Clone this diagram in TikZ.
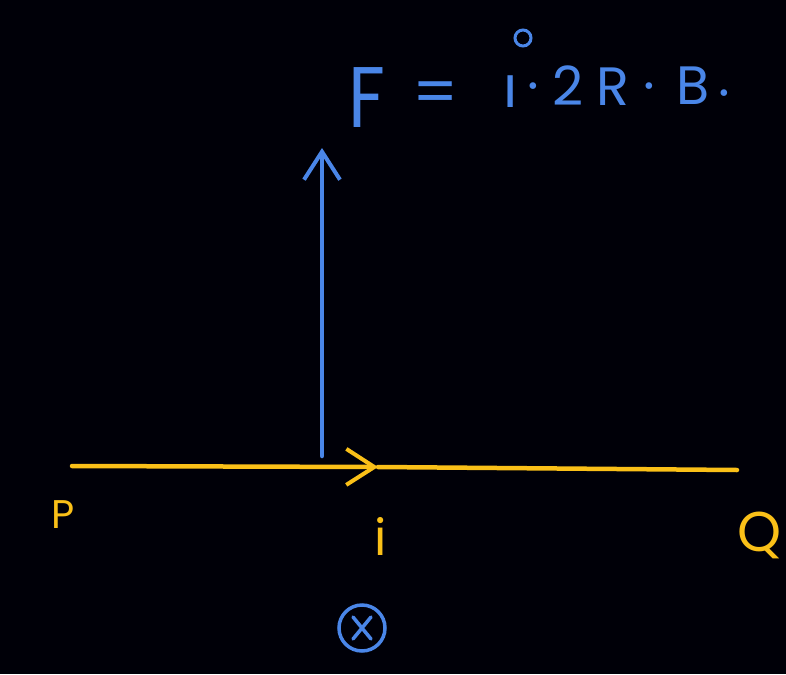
\documentclass[tikz,border=0pt]{standalone}
\usepackage{fontspec}
\setmainfont{Poppins}
\usetikzlibrary{arrows.meta}
\definecolor{bl}{RGB}{74,134,232}
\definecolor{yl}{RGB}{250,192,24}
\begin{document}
\begin{tikzpicture}[x=1pt,y=-1pt,
  wire/.style={yl,line width=4.5pt,line cap=round},
  force/.style={bl,line width=4.5pt,line cap=round},
  barb/.style={-{Straight Barb[length=28pt,width=36pt,line width=4pt]}},
  bltext/.style={text=bl,inner sep=0pt,anchor=base west},
  yltext/.style={text=yl,inner sep=0pt}]
\fill[black!97!blue] (0,0) rectangle (786,674);
\useasboundingbox (0,0) rectangle (786,674);
% wire
\coordinate (pP) at (72,466);
\coordinate (mid) at (378,467);
\coordinate (pQ) at (737,470);
\draw[wire,barb] (pP) -- (mid);
\draw[wire] (mid) -- (pQ);
% force
\coordinate (base) at (322,456);
\coordinate (top) at (322,148);
\draw[force,barb] (base) -- (top);
% formula
\node[bltext,font=\fontsize{86}{86}\selectfont,xscale=0.85] (F) at (348,127) {F};
\node[bltext,font=\fontsize{64}{64}\selectfont] (eq) at (412,114) {=};
\node[bltext,font=\fontsize{58}{58}\selectfont] (ii) at (503,108) {\i};
\draw[bl,line width=3pt] (523,38) circle (8);
\node[bltext,font=\fontsize{54}{54}\selectfont] (d1) at (527,104) {·};
\node[bltext,font=\fontsize{54}{54}\selectfont] (two) at (552,106) {2};
\node[bltext,font=\fontsize{54}{54}\selectfont] (R) at (596,106) {R};
\node[bltext,font=\fontsize{54}{54}\selectfont] (d2) at (643,104) {·};
\node[bltext,font=\fontsize{54}{54}\selectfont] (B) at (676,105) {B};
\node[bltext,font=\fontsize{54}{54}\selectfont] (d3) at (718,111) {·};
% labels
\node[yltext,font=\fontsize{40}{40}\selectfont] (P) at (63,515) {P};
\node[yltext,font=\fontsize{50}{50}\selectfont] (il) at (381,536) {i};
\node[yltext,font=\fontsize{56}{56}\selectfont] (Q) at (760,535) {Q};
\node[bl,draw,line width=3.5pt,circle,minimum size=46pt,inner sep=0pt] (x) at (362,628) {};
\draw[bl,line width=3.5pt,line cap=round] (x.center) ++(-9,-11) -- ++(18,22) (x.center) ++(9,-11) -- ++(-18,22);
\end{tikzpicture}
\end{document}
